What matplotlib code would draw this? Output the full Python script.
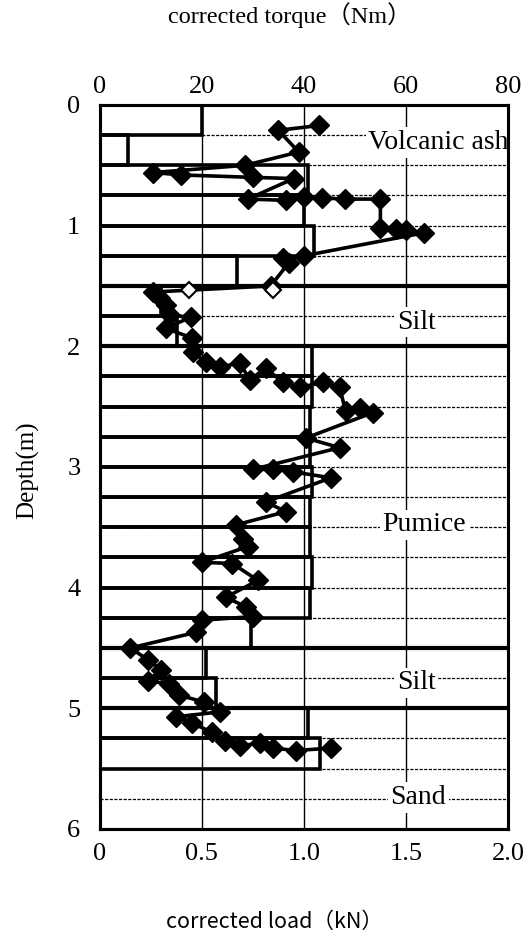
import matplotlib.pyplot as plt
import numpy as np

# load bars, one per 0.25 m depth step
bar_top = [0.0, 0.25, 0.5, 0.75, 1.0, 1.25, 1.5, 1.75, 2.0, 2.25, 2.5,
           2.75, 3.0, 3.25, 3.5, 3.75, 4.0, 4.25, 4.5, 4.75, 5.0, 5.25]
bar_load = [0.50, 0.14, 1.02, 1.00, 1.05, 0.67, 0.30, 0.38, 1.04, 1.04, 1.03,
            1.03, 1.04, 1.03, 1.03, 1.04, 1.03, 0.74, 0.52, 0.57, 1.02, 1.08]

# torque readings (depth m, torque Nm)
tq_depth = [0.17, 0.21, 0.39, 0.50, 0.56, 0.58, 0.60, 0.61,
            0.78, 0.79, 0.76, 0.77, 0.78, 0.78,
            1.02, 1.03, 1.04, 1.06, 1.25, 1.27, 1.31, 1.50,
            1.55, 1.60, 1.66, 1.74, 1.76, 1.85, 1.93,
            2.05, 2.13, 2.17, 2.14, 2.28, 2.18, 2.30, 2.34, 2.30, 2.34,
            2.54, 2.51, 2.55, 2.76, 2.84,
            3.02, 3.02, 3.04, 3.09, 3.29, 3.37, 3.48, 3.60, 3.66,
            3.79, 3.80, 3.94, 4.08, 4.16, 4.24, 4.27, 4.37,
            4.50, 4.60, 4.68, 4.77, 4.80, 4.89, 4.95, 5.03, 5.07, 5.12,
            5.20, 5.27, 5.31, 5.29, 5.33, 5.35, 5.33]
tq_value = [43, 35, 39, 28.5, 10.5, 16, 30, 38,
            29, 36.5, 40, 43.5, 48, 55,
            55, 58, 60, 63.5, 40, 36, 37, 33.5,
            10.5, 11.8, 13, 13.7, 17.8, 12.9, 18,
            18.2, 20.8, 23.5, 27.5, 29.4, 32.5, 35.9, 39.2, 43.7, 47,
            48.2, 51, 53.5, 40.4, 47,
            30, 34, 37.8, 45.3, 32.5, 36.5, 26.7, 28, 29,
            20, 26, 31, 24.7, 28.7, 30, 20, 18.9,
            6, 9.5, 12, 9.5, 13.5, 15.5, 20.5, 23.5, 15, 18,
            22, 24.5, 27.5, 31.4, 34, 38.4, 45.3]

# lighter single readings
open_depth = [1.53, 1.53]
open_value = [17.5, 34]

layer_bounds = [1.5, 2.0, 4.5, 5.0]
layer_names = ['Volcanic ash', 'Silt', 'Pumice', 'Silt', 'Sand']
layer_pos = [(1.66, 0.31), (1.55, 1.80), (1.59, 3.48), (1.55, 4.79), (1.56, 5.74)]

serif = ['Liberation Serif', 'Noto Sans CJK JP']

fig = plt.figure(figsize=(5.28, 9.33), dpi=100)
ax = fig.add_axes([0.189, 0.1115, 0.773, 0.776])

# grid
for g in np.arange(0.25, 6.0, 0.25):
    ax.axhline(g, color='black', lw=0.9, ls=(0, (2.5, 1.2)), zorder=1)
for g in [0.5, 1.0, 1.5]:
    ax.axvline(g, color='black', lw=1.0, zorder=1)

# load bars
centers = [t + 0.125 for t in bar_top]
ax.barh(centers, bar_load, height=0.25, left=0, fill=False,
        edgecolor='black', linewidth=2.6, zorder=3)

for b in layer_bounds:
    ax.axhline(b, color='black', lw=3.0, zorder=3)

for name, (x, y) in zip(layer_names, layer_pos):
    ax.text(x, y, name, ha='center', va='center', fontsize=20,
            family=serif, zorder=2,
            bbox=dict(facecolor='white', edgecolor='none', pad=2))

ax.set_xlim(0, 2.0)
ax.set_ylim(6, 0)
ax.set_xticks([0, 0.5, 1.0, 1.5, 2.0])
ax.set_xticklabels(['0', '0.5', '1.0', '1.5', '2.0'], family=serif, fontsize=19)
ax.set_yticks(range(7))
ax.set_yticklabels([str(i) for i in range(7)], family=serif, fontsize=19)
ax.tick_params(axis='x', length=0, pad=10)
ax.tick_params(axis='y', length=0, pad=14)
for s in ax.spines.values():
    s.set_linewidth(2.2)

# torque on the top axis
ax2 = ax.twiny()
ax2.set_xlim(0, 80)
ax2.set_xticks([0, 20, 40, 60, 80])
ax2.set_xticklabels(['0', '20', '40', '60', '80'], family=serif, fontsize=19)
ax2.tick_params(axis='x', length=0, pad=5)
ax2.plot(tq_value, tq_depth, color='black', lw=2.6, marker='D',
         markersize=10.5, zorder=5)
ax2.plot(open_value, open_depth, ls='none', marker='D', markersize=8,
         markerfacecolor='white', markeredgecolor='black',
         markeredgewidth=1.5, zorder=5)
for s in ax2.spines.values():
    s.set_linewidth(2.2)

fig.text(290 / 528, 1 - 15 / 933, 'corrected torque（Nm）', ha='center',
         va='center', fontsize=17.5, family=serif)
fig.text(274 / 528, 1 - 922 / 933, 'corrected load（kN）', ha='center',
         va='center', fontsize=15.5, family=['Noto Sans CJK JP', 'DejaVu Sans'])
fig.text(28 / 528, 1 - 470 / 933, 'Depth(m)', ha='center', va='center',
         rotation=90, fontsize=18, family=serif)

fig.savefig('out.png', dpi=100)
